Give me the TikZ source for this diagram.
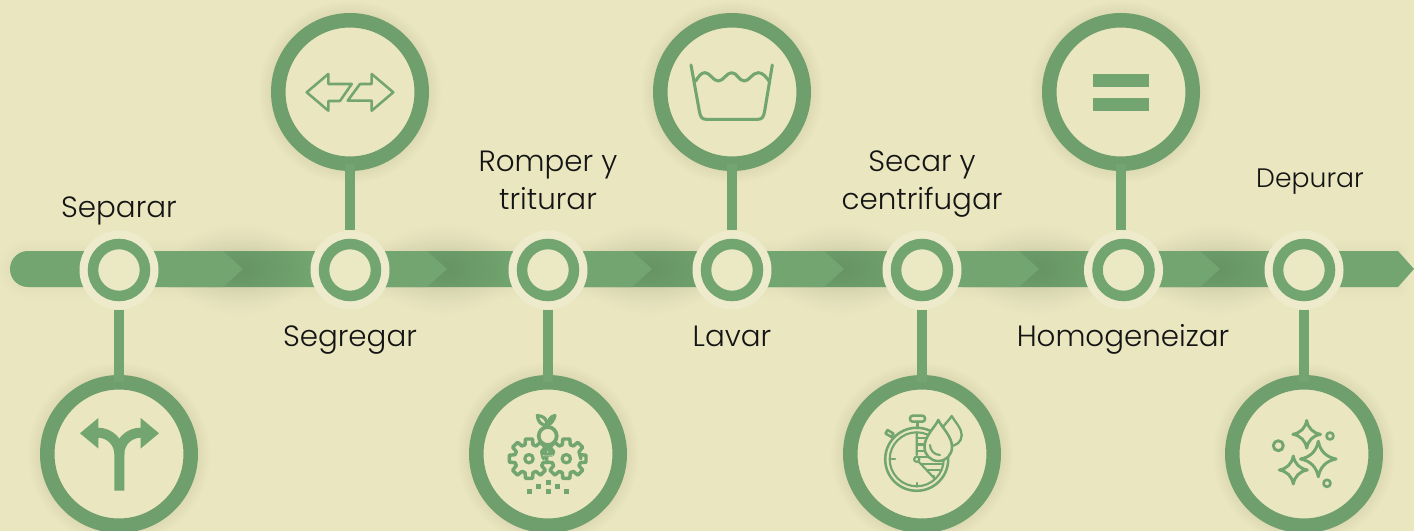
\documentclass[tikz,border=0pt]{standalone}
\usepackage{fontspec}
\setmainfont{Poppins}[UprightFont=* Light]
\usetikzlibrary{fadings,calc}
\definecolor{bgc}{RGB}{233,230,192}
\definecolor{haloc}{RGB}{237,235,204}
\definecolor{dotc}{RGB}{235,232,196}
\definecolor{grn}{RGB}{114,165,111}
\definecolor{ringc}{RGB}{111,159,108}
\definecolor{txt}{RGB}{20,20,20}
\tikzfading[name=softfade,inner color=transparent!90,outer color=transparent!100]
\tikzset{
  bigring/.style={circle,draw=ringc,fill=bgc,line width=10.9pt,minimum size=107.6pt,inner sep=0pt,outer sep=0pt},
  halonode/.style={circle,fill=haloc,minimum size=59.25pt,inner sep=0pt,outer sep=0pt},
  smallring/.style={circle,draw=grn,fill=dotc,line width=7.9pt,minimum size=39pt,inner sep=0pt,outer sep=0pt},
  stem/.style={draw=grn,line width=7.5pt},
  icon/.style={draw=grn,line width=1.9pt,line join=round,line cap=round},
  lab/.style={text=txt,font=\fontsize{22}{28.5}\selectfont,align=center,inner sep=0pt},
}
\newcommand\chev[1]{\fill[grn] ({#1-76},251) -- ({#1-20},251) -- (#1,269) -- ({#1-20},287) -- ({#1-76},287) -- cycle;}
\newcommand\shad[1]{\fill[black,path fading=softfade] ({#1-3},269) ellipse (72 and 46);}
\newcommand\ringshadow[2]{\foreach \w in {2,4,...,12}{\fill[black,opacity=.006] (#1,#2) circle ({79+\w});}}
\newcommand\sparkle[3]{\begin{scope}[shift={(#1,#2)},scale=#3]
  \draw[icon,line width=2.2pt] (0,-1) .. controls (.1,-.45) and (.45,-.1) .. (1,0) .. controls (.45,.1) and (.1,.45) .. (0,1) .. controls (-.1,.45) and (-.45,.1) .. (-1,0) .. controls (-.45,-.1) and (-.1,-.45) .. (0,-1) -- cycle;
\end{scope}}
\newcommand\gear[2]{\draw[icon,line width=2.6pt,fill=bgc] ($(#1,#2)+(0:14.5)$) \foreach \a in {0,45,...,315}{
   -- ($(#1,#2)+({\a-16}:14.5)$) -- ($(#1,#2)+({\a-10}:20)$) -- ($(#1,#2)+({\a+10}:20)$) -- ($(#1,#2)+({\a+16}:14.5)$)} -- cycle;
   \draw[icon,line width=2.4pt] (#1,#2) circle (4.2);}
\begin{document}
\begin{tikzpicture}[x=.75pt,y=-.75pt]
\path[use as bounding box] (0,0) rectangle (1414,531);
\clip (0,0) rectangle (1414,531);
\fill[bgc] (0,0) rectangle (1414,531);
% faint band shadow
\foreach \w in {3,6,...,18}{\draw[black,opacity=.005,line width=\w pt,line join=round] (28,251) -- (1398,251) -- (1398,287) -- (28,287) arc (90:270:18 and 18) -- cycle;}
% band
\fill[grn] (28,251) -- (1398,251) -- (1414,269) -- (1398,287) -- (28,287) .. controls (18,287) and (10,279) .. (10,269) .. controls (10,259) and (18,251) .. (28,251) -- cycle;
\foreach \t in {243,447,652,844,1039,1220}{\shad{\t}}
\foreach \t in {243,447,652,844,1039,1220}{\chev{\t}}
% timeline nodes
\foreach \n/\x in {1/119,2/350,3/548,4/732,5/922,6/1123.5,7/1304}{
  \node[halonode] (halo\n) at (\x,270) {};
  \node[smallring] (dot\n) at (\x,270) {};
}
% icon rings
\ringshadow{119}{454}\ringshadow{350}{92}\ringshadow{548}{454}\ringshadow{732}{92}\ringshadow{922}{454}\ringshadow{1121}{92}\ringshadow{1304}{454}
\node[bigring] (big1) at (119,454) {};
\node[bigring] (big2) at (350,92) {};
\node[bigring] (big3) at (548,454) {};
\node[bigring] (big4) at (732,92) {};
\node[bigring] (big5) at (922,454) {};
\node[bigring] (big6) at (1121,92) {};
\node[bigring] (big7) at (1304,454) {};
\draw[stem] (big1) -- (big1 |- 0,310);
\draw[stem] (big3) -- (big3 |- 0,310);
\draw[stem] (big5) -- (big5 |- 0,310);
\draw[stem] (big7) -- (big7 |- 0,310);
\draw[stem] (big2) -- (big2 |- halo2.north);
\draw[stem] (big4) -- (big4 |- halo4.north);
\draw[stem] (big6) -- (big6 |- halo6.north);
% labels
\node[lab,anchor=base] (t1) at (119,218) {Separar};
\node[lab,anchor=base] (t2) at (350,346) {Segregar};
\node[lab] (t3) at (548,180) {Romper y\\triturar};
\node[lab,anchor=base] (t4) at (732,346) {Lavar};
\node[lab] (t5) at (922,184) {Secar y\\centrifugar};
\node[lab,anchor=base] (t6) at (1123,346) {Homogeneizar};
\node[lab,anchor=base,font=\fontsize{20}{26}\selectfont] (t7) at (1310,188) {Depurar};
% icon: fork arrows
\draw[grn,line width=7.5pt] (119.3,490.7) -- (119.3,454) arc (0:-90:21.3) -- (98,433);
\draw[grn,line width=7.5pt] (119.3,454) arc (180:270:21.3) -- (141,433);
\fill[grn] (80,433.3) -- (98.3,418) -- (98.3,448.5) -- cycle;
\fill[grn] (159,433.3) -- (140.7,418) -- (140.7,448.5) -- cycle;
% icon: two arrows
\draw[icon,line width=1.9pt] (306.7,92.3) -- (328.3,74) -- (328.3,84) -- (351.7,84) -- (340,101) -- (328.3,101) -- (328.3,110.7) -- cycle;
\draw[icon,line width=1.9pt] (393.3,92.3) -- (371.7,74) -- (371.7,84) -- (360,84) -- (347.7,100.7) -- (371.7,100.7) -- (371.7,110.7) -- cycle;
% icon: wash tub
\draw[icon,line width=2.3pt] (691,65) -- (699.5,112) .. controls (700.5,117) and (702,119.3) .. (706,119.3) -- (758,119.3) .. controls (762,119.3) and (763.5,117) .. (764.5,112) -- (772.3,65);
\draw[icon,line width=2.3pt] (695.7,81) .. controls (699,76) and (701,72.7) .. (705,72.7) .. controls (710,72.7) and (713,81) .. (718.3,81) .. controls (723.5,81) and (726.5,72.7) .. (731.7,72.7) .. controls (737,72.7) and (739,81) .. (744.3,81) .. controls (749.5,81) and (752,72.7) .. (758.3,72.7) .. controls (763,72.7) and (766,77) .. (769,81);
% icon: equals
\fill[grn] (1093,74) rectangle (1149,87);
\fill[grn] (1093,98) rectangle (1149,111);
% icon: gears
\gear{529}{458.7}\gear{566.3}{458.7}
\draw[icon,line width=2.8pt,fill=bgc] (547.7,436) circle (9);
\fill[bgc] (547.7,446) -- (553,456) -- (542.5,456) -- cycle;
\draw[icon,line width=2.4pt] (547.7,447) -- (551.5,454) -- (544,454) -- cycle;
\draw[icon,line width=2.4pt,fill=bgc] (537.3,415.5) .. controls (544,416) and (547,419) .. (547,425.5) .. controls (541,425) and (538,422) .. (537.3,415.5) -- cycle;
\draw[icon,line width=2.4pt,fill=grn] (555,415.5) .. controls (551,416) and (548,420) .. (547.5,425.5) .. controls (551,424) and (554,420) .. (555,415.5) -- cycle;
\foreach \x/\y in {529.3/491.3,538.3/486.3,548.3/482.3,548.3/491.3,557.3/486.3,566.3/491.3}{\fill[grn] ({\x-2.5},{\y-2.5}) rectangle ({\x+2.5},{\y+2.5});}
% icon: stopwatch
\draw[icon,line width=1.9pt] (916.7,459.3) circle (31.5);
\draw[icon,line width=1.6pt] (916.7,459.3) circle (27);
\draw[icon,line width=1.9pt,fill=bgc,rounded corners=2pt] (910,415.7) rectangle (925,421.7);
\draw[icon,line width=1.9pt] (917.5,421.7) -- (917.5,428);
\draw[icon,line width=1.9pt,fill=bgc] (887.5,430) -- (893.5,433.5) -- (891.5,437) -- (885.5,433.5) -- cycle;
\draw[icon,line width=1.6pt] (891.7,459.3) -- (895,459.3) (916.7,483) -- (916.7,486.7);
\draw[icon,line width=1.6pt] (916.7,433) -- (916.7,455) (919,462) -- (935,479);
\foreach \y in {438,444.5,451,457,464,470,476}{\pgfmathsetmacro\xe{\y<460?933:(\y<465?943:(\y<472?940:934))}\pgfmathsetmacro\xs{\y<460?916.7:(\y<465?922:(\y<472?928:933))}\draw[icon,line width=1.6pt] (\xs,\y) -- (\xe,\y);}
\draw[icon,line width=1.6pt] (916.7,459.3) circle (2.6);
\draw[icon,line width=1.7pt,fill=bgc] (951.7,416) .. controls (955,422) and (961.7,428) .. (961.7,435) .. controls (961.7,442) and (956,446) .. (950,446) .. controls (944,446) and (940,440) .. (940,434) .. controls (940,428) and (948,422) .. (951.7,416) -- cycle;
\draw[icon,line width=1.9pt,fill=bgc] (938.3,420) .. controls (942,428) and (952,436) .. (952,447) .. controls (952,455) and (946,461) .. (938.3,461) .. controls (930.5,461) and (924.5,455) .. (924.5,447) .. controls (924.5,436) and (934.5,428) .. (938.3,420) -- cycle;
\draw[icon,line width=1.6pt] (930,445) .. controls (930,450) and (934,455) .. (940,455);
% icon: sparkles
\sparkle{1306.7}{434.3}{13.8}
\sparkle{1318.3}{459}{17.8}
\sparkle{1293.3}{470}{14}
\draw[icon,line width=2.2pt] (1278.3,445.7) circle (5);
\draw[icon,line width=2pt] (1330,436) circle (3.5);
\draw[icon,line width=2pt] (1327,483.3) circle (3.5);
\end{tikzpicture}
\end{document}
